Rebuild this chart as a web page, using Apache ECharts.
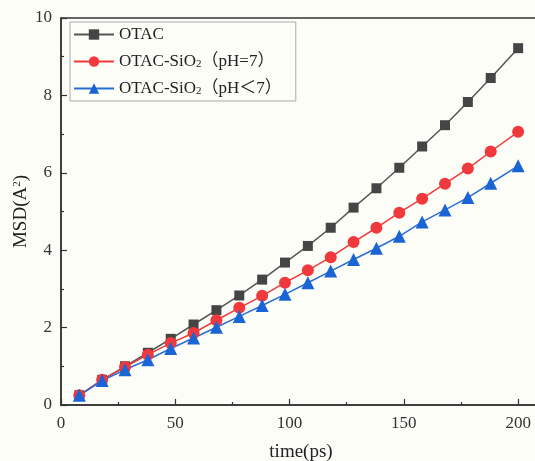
<!DOCTYPE html>
<html>
<head>
<meta charset="utf-8">
<script src="https://cdn.jsdelivr.net/npm/echarts@6/dist/echarts.min.js"></script>
<style>
  html, body { margin: 0; padding: 0; background: #fdfdf8; }
  #chart { width: 535px; height: 461px; }
</style>
</head>
<body>
<div id="chart"></div>
<script>
// 时间 (ps)
var times = [8, 18, 28, 38, 48, 58, 68, 78, 88, 98, 108, 118, 128, 138, 148, 158, 168, 178, 188, 200]
// MSD 值
var otac = [0.25, 0.65, 1.0, 1.35, 1.71, 2.08, 2.45, 2.83, 3.24, 3.68, 4.11, 4.58, 5.10, 5.60, 6.13, 6.68, 7.23, 7.83, 8.45, 9.22]
var otacPh7 = [0.25, 0.65, 0.98, 1.30, 1.60, 1.86, 2.19, 2.51, 2.82, 3.16, 3.48, 3.82, 4.21, 4.58, 4.97, 5.33, 5.72, 6.11, 6.55, 7.06]
var otacPhLow = [0.25, 0.63, 0.91, 1.17, 1.46, 1.73, 2.01, 2.29, 2.57, 2.86, 3.16, 3.46, 3.76, 4.05, 4.36, 4.73, 5.04, 5.36, 5.73, 6.18]
var seriesNames = ['OTAC', 'OTAC-SiO2（pH=7）', 'OTAC-SiO2（pH＜7）']

var serif = 'Liberation Serif, Times New Roman, Noto Sans CJK SC, serif'

function pairs(ys) {
  return times.map(function (t, i) { return [t, ys[i]] })
}

var myChart = echarts.init(document.getElementById('chart'))
var option = {
  backgroundColor: '#fdfdf8',
  animation: false,
  grid: {
    left: 61,
    top: 18,
    right: -6,
    bottom: 56,
    outerBoundsMode: 'none',
    containLabel: false,
    show: true,
    borderColor: '#333',
    borderWidth: 1.5,
    backgroundColor: '#fdfdf8'
  },
  legend: {
    left: 70,
    top: 22,
    orient: 'vertical',
    padding: [4, 14, 4, 3],
    itemWidth: 40,
    itemHeight: 13,
    itemGap: 8,
    borderColor: '#aaa',
    borderWidth: 1,
    backgroundColor: '#fdfdf8',
    data: seriesNames,
    formatter: function (name) {
      if (name === 'OTAC') return name
      var parts = name.split('SiO2')
      return parts[0] + 'SiO{sub|2}' + parts[1]
    },
    textStyle: {
      fontFamily: serif,
      fontSize: 17,
      lineHeight: 17,
      color: '#222',
      rich: {
        sub: { fontFamily: serif, fontSize: 11, lineHeight: 17, color: '#222', verticalAlign: 'bottom', padding: [8, 0, 0, 0] }
      }
    }
  },
  xAxis: {
    type: 'value',
    min: 0,
    max: 210,
    interval: 50,
    name: 'time(ps)',
    nameLocation: 'middle',
    nameGap: 38,
    nameTextStyle: { fontFamily: serif, fontSize: 19, color: '#222' },
    axisLine: { lineStyle: { color: '#333', width: 1.5 } },
    axisTick: { inside: true, length: 6, lineStyle: { color: '#333', width: 1.2 } },
    minorTick: { show: true, splitNumber: 2, length: 3, lineStyle: { color: '#333', width: 1.2 } },
    splitLine: { show: false },
    axisLabel: { showMaxLabel: false, margin: 10, fontFamily: serif, fontSize: 17, color: '#333' }
  },
  yAxis: {
    type: 'value',
    min: 0,
    max: 10,
    interval: 2,
    name: 'MSD(A{sup|2})',
    nameLocation: 'middle',
    nameGap: 30,
    nameMoveOverlap: false,
    nameTextStyle: {
      fontFamily: serif, fontSize: 19, color: '#222',
      rich: { sup: { fontFamily: serif, fontSize: 11, color: '#222', verticalAlign: 'top', padding: [0, 0, 8, 0] } }
    },
    axisLine: { show: true, lineStyle: { color: '#333', width: 1.5 } },
    axisTick: { inside: true, length: 6, lineStyle: { color: '#333', width: 1.2 } },
    minorTick: { show: true, splitNumber: 2, length: 3, lineStyle: { color: '#333', width: 1.2 } },
    splitLine: { show: false },
    axisLabel: { margin: 9, fontFamily: serif, fontSize: 17, color: '#333' }
  },
  series: [
    {
      name: seriesNames[0],
      type: 'line',
      data: pairs(otac),
      symbol: 'rect',
      symbolSize: 10,
      itemStyle: { color: '#454545' },
      lineStyle: { color: '#555', width: 1.5 }
    },
    {
      name: seriesNames[1],
      type: 'line',
      data: pairs(otacPh7),
      symbol: 'circle',
      symbolSize: 12,
      itemStyle: { color: '#f0393d' },
      lineStyle: { color: '#f0393d', width: 1.5 }
    },
    {
      name: seriesNames[2],
      type: 'line',
      data: pairs(otacPhLow),
      symbol: 'triangle',
      symbolSize: 13,
      itemStyle: { color: '#1a64d6' },
      lineStyle: { color: '#2a6fd6', width: 1.5 }
    }
  ]
}
myChart.setOption(option)
</script>
</body>
</html>
